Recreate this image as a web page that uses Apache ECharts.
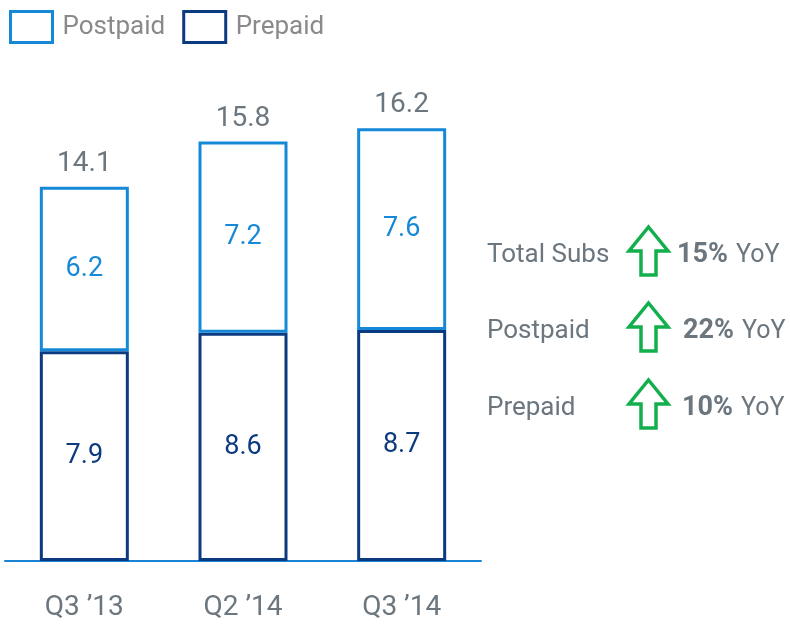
<!DOCTYPE html>
<html>
<head>
<meta charset="utf-8">
<script src="https://cdn.jsdelivr.net/npm/echarts@6/dist/echarts.min.js"></script>
<style>
  html, body { margin: 0; padding: 0; background: #fff; }
  #chart { width: 790px; height: 625px; }
</style>
</head>
<body>
<div id="chart"></div>
<script>
// 数据
const quarters = ['Q3 \u201913', 'Q2 \u201914', 'Q3 \u201914']
const prepaid = [7.9, 8.6, 8.7]
const postpaid = [6.2, 7.2, 7.6]
const totals = [14.1, 15.8, 16.2]
const growthNames = ['Total Subs', 'Postpaid', 'Prepaid']
const growthPct = ['15%', '22%', '10%']

const lightBlue = '#1688d8'
const navy = '#0c3a80'
const gray = '#6b767e'
const green = '#12b04c'

const myChart = echarts.init(document.getElementById('chart'))

// 右侧增长说明
const rowY = [256, 332, 409]
const pctX = [677, 683, 682]
const graphics = []
growthNames.forEach((name, i) => {
  graphics.push({
    type: 'text',
    left: 487,
    top: rowY[i] - 14,
    style: { text: name, fill: gray, font: '26px Roboto' }
  })
  graphics.push({
    type: 'polygon',
    x: 629,
    y: rowY[i] - 29,
    shape: {
      points: [[19.5, 0], [39, 24], [27, 24], [27, 48], [12, 48], [12, 24], [0, 24]]
    },
    style: { fill: '#fff', stroke: green, lineWidth: 3.5, lineJoin: 'miter' }
  })
  graphics.push({
    type: 'text',
    left: pctX[i],
    top: rowY[i] - 14,
    style: {
      text: '{b|' + growthPct[i] + '}{n|YoY}',
      rich: {
        b: { fill: gray, font: 'bold 27px Roboto' },
        n: { fill: gray, font: '25px Roboto', padding: [0, 0, 0, 8] }
      }
    }
  })
})

const option = {
  backgroundColor: '#ffffff',
  animation: false,
  textStyle: { fontFamily: 'Roboto' },
  legend: {
    left: 9,
    top: 10,
    padding: 0,
    itemWidth: 42,
    itemHeight: 31,
    itemGap: 17,
    textStyle: { color: '#8a8a8a', fontSize: 26, fontFamily: 'Roboto', padding: [2, 0, 0, 5] },
    data: [
      { name: 'Postpaid', icon: 'rect', itemStyle: { color: '#fff', borderColor: lightBlue, borderWidth: 3 } },
      { name: 'Prepaid', icon: 'rect', itemStyle: { color: '#fff', borderColor: navy, borderWidth: 3 } }
    ]
  },
  grid: { left: 5, top: 30, width: 476, bottom: 64 },
  xAxis: {
    type: 'category',
    data: quarters,
    axisLine: { lineStyle: { color: '#1a84d4', width: 2 } },
    axisTick: { show: false },
    axisLabel: { color: gray, fontSize: 28, margin: 33, fontFamily: 'Roboto' }
  },
  yAxis: {
    type: 'value',
    min: 0,
    max: 20,
    show: false,
    splitLine: { show: false }
  },
  series: [
    {
      name: 'Prepaid',
      type: 'bar',
      stack: 'subs',
      barWidth: 89,
      data: prepaid,
      itemStyle: { color: '#fff', borderColor: navy, borderWidth: 3 },
      label: { show: true, position: 'inside', color: navy, fontSize: 27, fontFamily: 'Roboto' }
    },
    {
      name: 'Postpaid',
      type: 'bar',
      stack: 'subs',
      barWidth: 89,
      data: postpaid,
      itemStyle: { color: '#fff', borderColor: lightBlue, borderWidth: 3 },
      label: { show: true, position: 'inside', color: lightBlue, fontSize: 27, fontFamily: 'Roboto' }
    },
    {
      name: 'Total',
      type: 'bar',
      stack: 'subs',
      barWidth: 89,
      data: totals.map(() => 0),
      itemStyle: { color: 'transparent' },
      label: {
        show: true,
        position: 'top',
        distance: 9,
        color: gray,
        fontSize: 28,
        fontFamily: 'Roboto',
        formatter: p => totals[p.dataIndex].toFixed(1)
      }
    }
  ],
  graphic: graphics
}

myChart.setOption(option)
</script>
</body>
</html>
